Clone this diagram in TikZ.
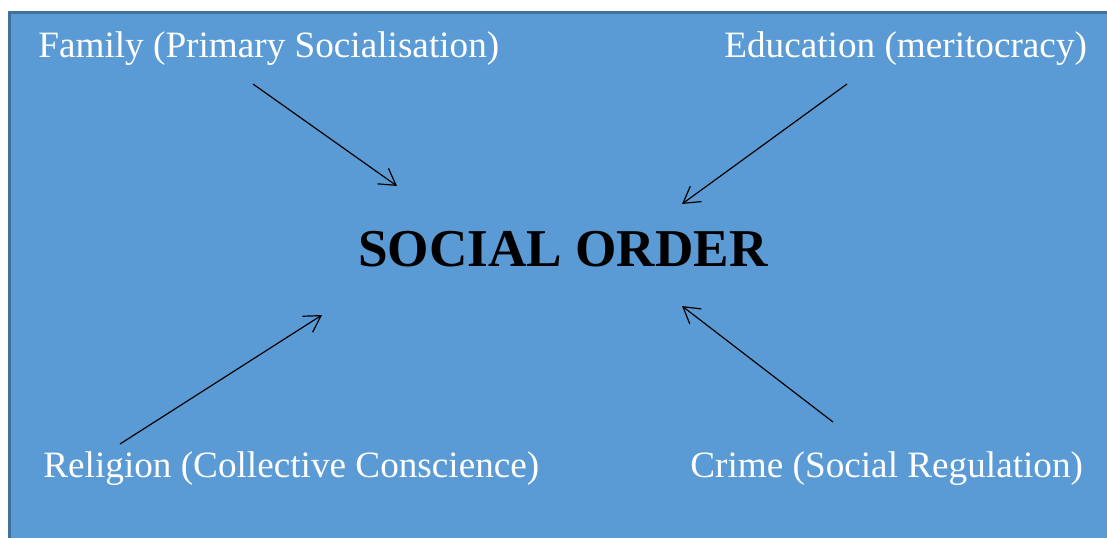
\documentclass[tikz,border=0pt]{standalone}
\usepackage{fontspec}
\setmainfont{Liberation Serif}
\usetikzlibrary{arrows.meta}
\definecolor{boxfill}{HTML}{5B9BD5}
\definecolor{boxline}{HTML}{41719C}
\tikzset{
  lbl/.style={text=white,font=\fontsize{18.6pt}{22pt}\selectfont,inner sep=0pt,anchor=base west},
  title/.style={text=black,font=\fontsize{26.6pt}{30pt}\selectfont\bfseries,inner sep=0pt,anchor=base},
  arr/.style={-{Straight Barb[length=8pt,width=9.5pt]},line width=0.6pt,black}
}
\begin{document}
\begin{tikzpicture}[x=0.5pt,y=-0.5pt]
\useasboundingbox (0,0) rectangle (1107,537);
\fill[white] (0,0) rectangle (1107,537);
\filldraw[fill=boxfill,draw=boxline,line width=1.2pt] (9.5,12.5) rectangle (1120,560);
\node[title] (so) at (563,266) {SOCIAL ORDER};
\node[lbl] (fam) at (38,57) {Family (Primary Socialisation)};
\node[lbl] (edu) at (724,57) {Education (meritocracy)};
\node[lbl] (rel) at (43,477) {Religion (Collective Conscience)};
\node[lbl] (cri) at (690,477) {Crime (Social Regulation)};
\coordinate (fs) at (253,84);
\coordinate (fe) at (397,186);
\coordinate (es) at (847,84);
\coordinate (ee) at (682,204);
\coordinate (rs) at (120,444);
\coordinate (re) at (322,315);
\coordinate (cs) at (833,422);
\coordinate (ce) at (682,306);
\draw[arr] (fs) -- (fe);
\draw[arr] (es) -- (ee);
\draw[arr] (rs) -- (re);
\draw[arr] (cs) -- (ce);
\end{tikzpicture}
\end{document}
